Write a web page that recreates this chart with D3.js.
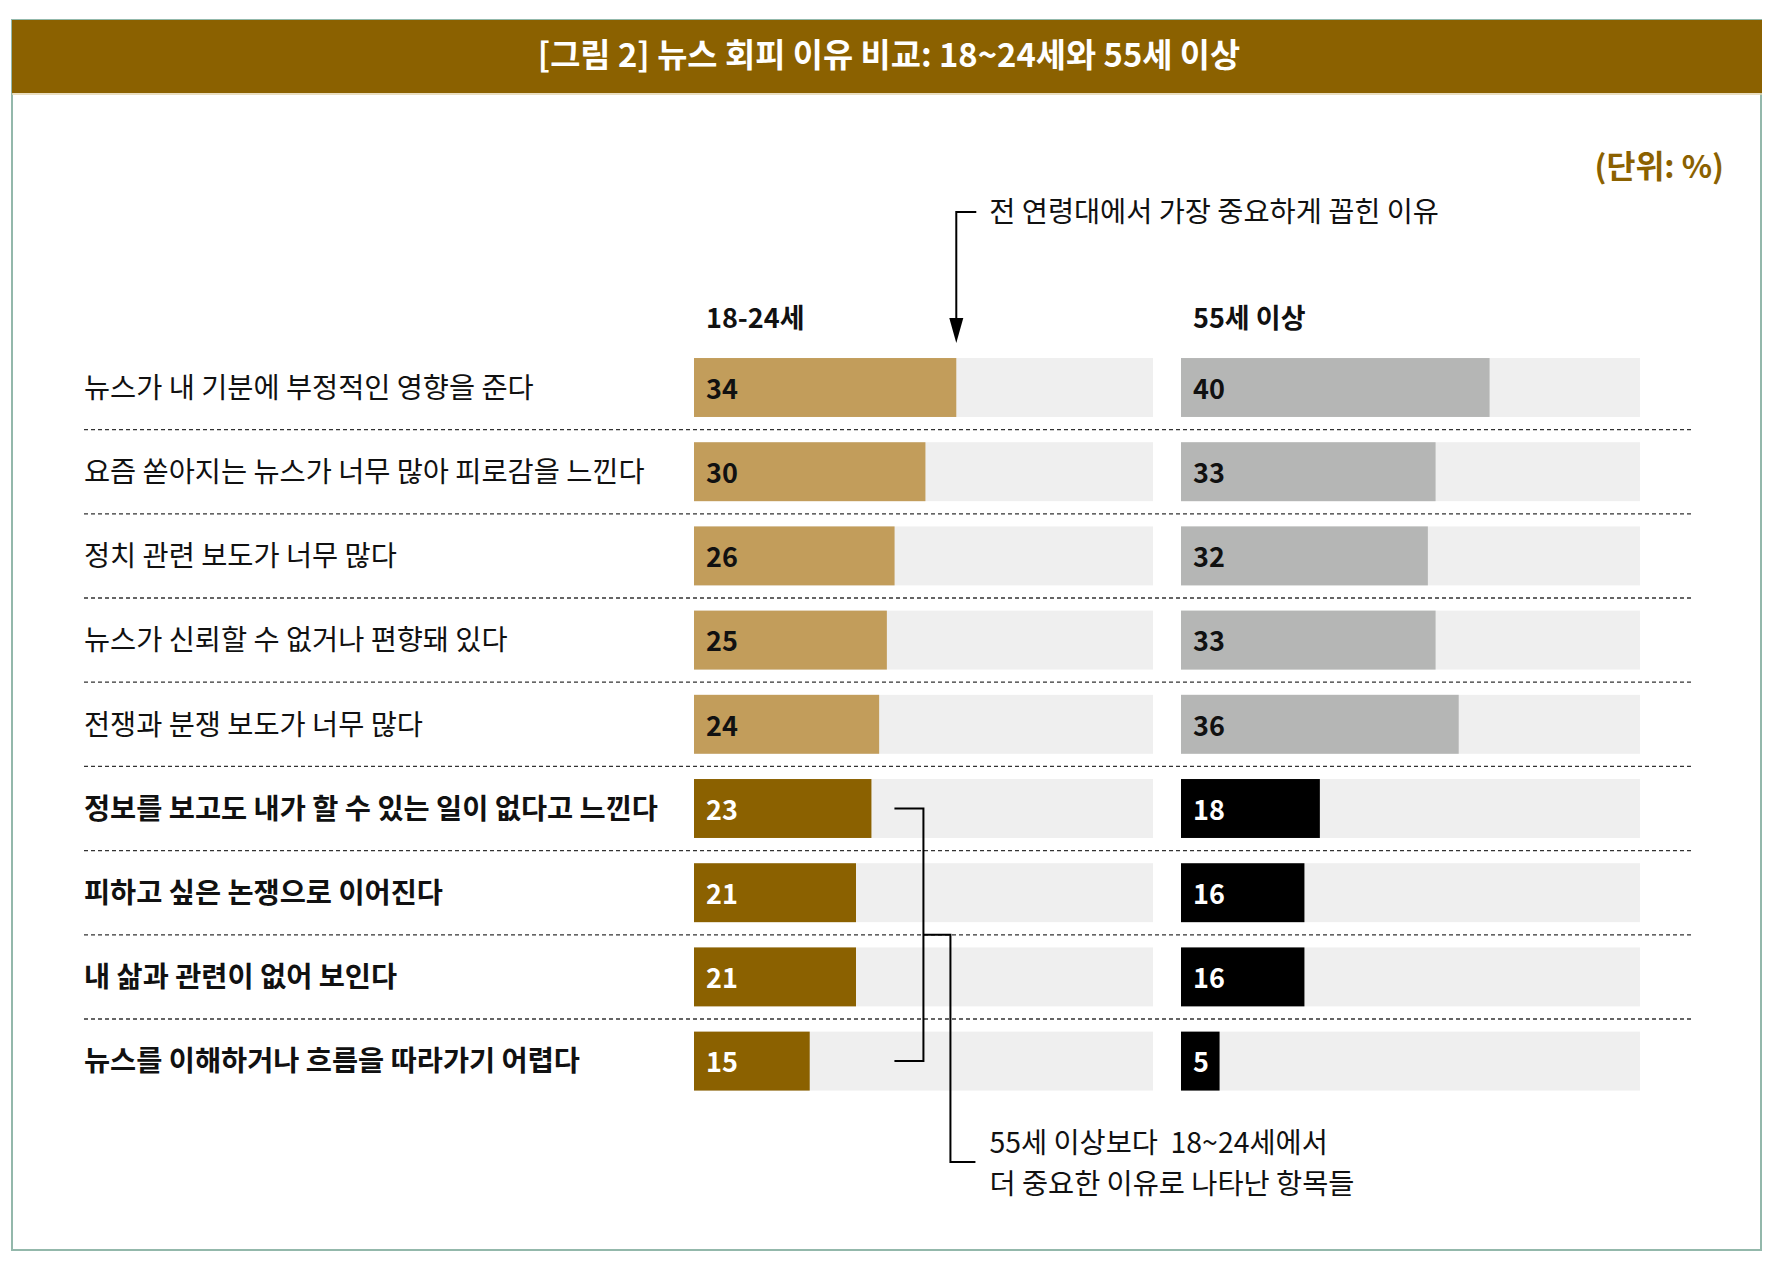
<!DOCTYPE html>
<html>
<head>
<meta charset="utf-8">
<script src="https://cdn.jsdelivr.net/npm/d3@7"></script>
<style>
  body { margin: 0; background: #fff; }
  text { font-family: "Noto Sans CJK KR", "Noto Sans", sans-serif; }
</style>
</head>
<body>
<div id="chart"></div>
<script>
// data
const reasons = [
  "뉴스가 내 기분에 부정적인 영향을 준다",
  "요즘 쏟아지는 뉴스가 너무 많아 피로감을 느낀다",
  "정치 관련 보도가 너무 많다",
  "뉴스가 신뢰할 수 없거나 편향돼 있다",
  "전쟁과 분쟁 보도가 너무 많다",
  "정보를 보고도 내가 할 수 있는 일이 없다고 느낀다",
  "피하고 싶은 논쟁으로 이어진다",
  "내 삶과 관련이 없어 보인다",
  "뉴스를 이해하거나 흐름을 따라가기 어렵다"
];
const young = [34, 30, 26, 25, 24, 23, 21, 21, 15];   // 18-24세
const older = [40, 33, 32, 33, 36, 18, 16, 16, 5];    // 55세 이상
const groups = ["18-24세", "55세 이상"];
const title = "[그림 2] 뉴스 회피 이유 비교: 18~24세와 55세 이상";
const unitLabel = "(단위: %)";
const noteTop = "전 연령대에서 가장 중요하게 꼽힌 이유";
const noteBottom = ["55세 이상보다  18~24세에서", "더 중요한 이유로 나타난 항목들"];

const width = 1777, height = 1270;
const colors = {
  band: "#8b6100",
  youngLight: "#c29d5b",
  youngDark: "#8b6100",
  oldLight: "#b5b6b5",
  oldDark: "#000000",
  track: "#efefef",
  border: "#93b8ab"
};

const svg = d3.select("#chart")
  .append("svg")
    .attr("width", width)
    .attr("height", height);

// frame + title band
svg.append("rect")
  .attr("x", 12).attr("y", 20)
  .attr("width", 1749).attr("height", 1230)
  .attr("fill", "none")
  .attr("stroke", colors.border)
  .attr("stroke-width", 2);

svg.append("rect")
  .attr("x", 12).attr("y", 20)
  .attr("width", 1750).attr("height", 73)
  .attr("fill", colors.band);
svg.append("line")
  .attr("x1", 12).attr("x2", 1762)
  .attr("y1", 94).attr("y2", 94)
  .attr("stroke", "#e3d3ad").attr("stroke-width", 1.5);

svg.append("text")
  .attr("x", 889).attr("y", 67)
  .attr("text-anchor", "middle")
  .attr("fill", "#fff")
  .attr("font-size", 32.8)
  .attr("font-weight", "bold")
  .text(title);

svg.append("text")
  .attr("x", 1724).attr("y", 178)
  .attr("text-anchor", "end")
  .attr("fill", colors.band)
  .attr("font-size", 31.5)
  .attr("font-weight", "bold")
  .text(unitLabel);

// scales
const y = d3.scaleBand()
  .domain(reasons)
  .range([345.4, 345.4 + 9 * 84.2])
  .paddingInner(0.3)
  .paddingOuter(0.15);

const xL = d3.scaleLinear().domain([0, 59.5]).range([694, 1153]);
const xR = d3.scaleLinear().domain([0, 59.5]).range([1181, 1640]);

const rows = reasons.map((r, i) => ({
  reason: r,
  young: young[i],
  older: older[i],
  emph: young[i] > older[i]
}));

// separators
svg.selectAll(".sep")
  .data(rows.slice(0, -1))
  .enter()
  .append("line")
    .attr("x1", 84).attr("x2", 1694)
    .attr("y1", d => y(d.reason) + y.bandwidth() + (y.step() - y.bandwidth()) / 2)
    .attr("y2", d => y(d.reason) + y.bandwidth() + (y.step() - y.bandwidth()) / 2)
    .attr("stroke", "#333")
    .attr("stroke-width", 1.3)
    .attr("stroke-dasharray", "4,3");

// row labels
svg.selectAll(".lbl")
  .data(rows)
  .enter()
  .append("text")
    .attr("x", 84)
    .attr("y", d => y(d.reason) + y.bandwidth() / 2)
    .attr("dy", "0.36em")
    .attr("font-size", 28.4)
    .attr("font-weight", d => d.emph ? "bold" : "normal")
    .attr("fill", "#111")
    .text(d => d.reason);

// column headers
svg.selectAll(".hdr")
  .data(groups)
  .enter()
  .append("text")
    .attr("x", (d, i) => (i === 0 ? xL(0) : xR(0)) + 12)
    .attr("y", 328)
    .attr("font-size", 27)
    .attr("font-weight", "bold")
    .attr("fill", "#111")
    .text(d => d);

function panel(x, key, light, dark, darkText) {
  // tracks
  svg.selectAll(".track-" + key)
    .data(rows)
    .enter()
    .append("rect")
      .attr("x", x(0))
      .attr("y", d => y(d.reason))
      .attr("width", x.range()[1] - x.range()[0])
      .attr("height", y.bandwidth())
      .attr("fill", colors.track);

  // bars
  svg.selectAll(".bar-" + key)
    .data(rows)
    .enter()
    .append("rect")
      .attr("x", x(0))
      .attr("y", d => y(d.reason))
      .attr("width", d => x(d[key]) - x(0))
      .attr("height", y.bandwidth())
      .attr("fill", d => d.emph ? dark : light);

  // values
  svg.selectAll(".val-" + key)
    .data(rows)
    .enter()
    .append("text")
      .attr("x", x(0) + 12)
      .attr("y", d => y(d.reason) + y.bandwidth() / 2)
      .attr("dy", "0.42em")
      .attr("font-size", 27)
      .attr("font-weight", 600)
      .attr("fill", d => d.emph ? darkText : "#111")
      .text(d => d[key]);
}

panel(xL, "young", colors.youngLight, colors.youngDark, "#fff");
panel(xR, "older", colors.oldLight, colors.oldDark, "#fff");

// top annotation with arrow
const ax = xL(young[0]);
const topY = y(reasons[0]);
svg.append("path")
  .attr("d", `M${ax + 20},212 H${ax} V${topY - 30}`)
  .attr("fill", "none")
  .attr("stroke", "#000")
  .attr("stroke-width", 2);
svg.append("path")
  .attr("d", `M${ax - 7},${topY - 40} L${ax + 7},${topY - 40} L${ax},${topY - 15} Z`)
  .attr("fill", "#000");
svg.append("text")
  .attr("x", ax + 33).attr("y", 222)
  .attr("font-size", 28.4)
  .attr("fill", "#111")
  .text(noteTop);

// bracket for highlighted rows
const emphRows = rows.filter(d => d.emph);
const c = d => y(d.reason) + y.bandwidth() / 2;
const bx0 = xL(young[5]) + 23, bx1 = bx0 + 29;
const yTop = c(emphRows[0]), yBot = c(emphRows[emphRows.length - 1]);
const yMid = (yTop + yBot) / 2;
svg.append("path")
  .attr("d", `M${bx0},${yTop} H${bx1} V${yBot} H${bx0}`)
  .attr("fill", "none")
  .attr("stroke", "#000")
  .attr("stroke-width", 2);
const ly = 1162;
svg.append("path")
  .attr("d", `M${bx1},${yMid} H${bx1 + 27} V${ly} H${bx1 + 52}`)
  .attr("fill", "none")
  .attr("stroke", "#000")
  .attr("stroke-width", 2);

svg.selectAll(".note")
  .data(noteBottom)
  .enter()
  .append("text")
    .attr("x", bx1 + 66)
    .attr("y", (d, i) => 1153 + i * 41)
    .attr("font-size", 28.4)
    .attr("fill", "#111")
    .attr("xml:space", "preserve")
    .style("white-space", "pre")
    .text(d => d);
</script>
</body>
</html>
